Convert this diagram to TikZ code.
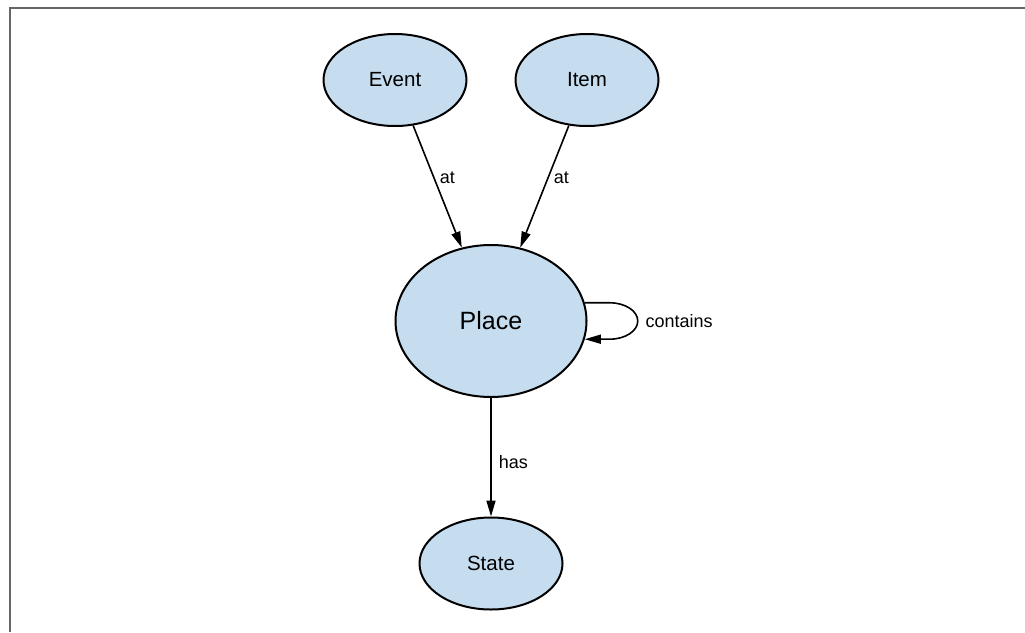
\documentclass[tikz,border=0pt]{standalone}
\usepackage{fontspec}
\setmainfont{Liberation Sans}
\usetikzlibrary{shapes.geometric,arrows.meta}
\definecolor{nodefill}{RGB}{198,221,240}
\definecolor{framegray}{RGB}{102,102,102}
\begin{document}
\begin{tikzpicture}[x=1pt,y=1pt,
  ent/.style={ellipse,draw=black,line width=2pt,fill=nodefill,minimum width=143pt,minimum height=92pt,inner sep=0pt,font=\fontsize{20.5}{24}\selectfont},
  big/.style={ent,minimum width=191pt,minimum height=152pt,font=\fontsize{25}{30}\selectfont},
  rel/.style={draw=black,line width=1.6pt,-{Triangle[length=16pt,width=9pt]}},
  lab/.style={font=\fontsize{18}{22}\selectfont,inner sep=2pt}]
\useasboundingbox (0,0) rectangle (1025,-632);
\draw[framegray,line width=2pt] (9.5,-632) -- (9.5,-7.5) -- (1025,-7.5);
\node[ent] (ev) at (395,-80) {Event};
\node[ent] (it) at (587,-80) {Item};
\node[big] (pl) at (491,-321) {Place};
\node[ent] (st) at (491,-563.5) {State};
\draw[rel] (ev) -- node[lab,pos=0.43,right=3pt]{at} (pl);
\draw[rel] (it) -- node[lab,pos=0.43,right=3pt]{at} (pl);
\draw[rel] (pl) -- node[lab,pos=0.54,right=5pt]{has} (st);
\draw[rel] (pl.11) -- ++(25,0) arc[start angle=90,end angle=0,x radius=28,y radius=18.2]
  node[lab,anchor=west,xshift=5pt]{contains}
  arc[start angle=0,end angle=-90,x radius=28,y radius=18.2] -- (pl.-11);
\end{tikzpicture}
\end{document}
